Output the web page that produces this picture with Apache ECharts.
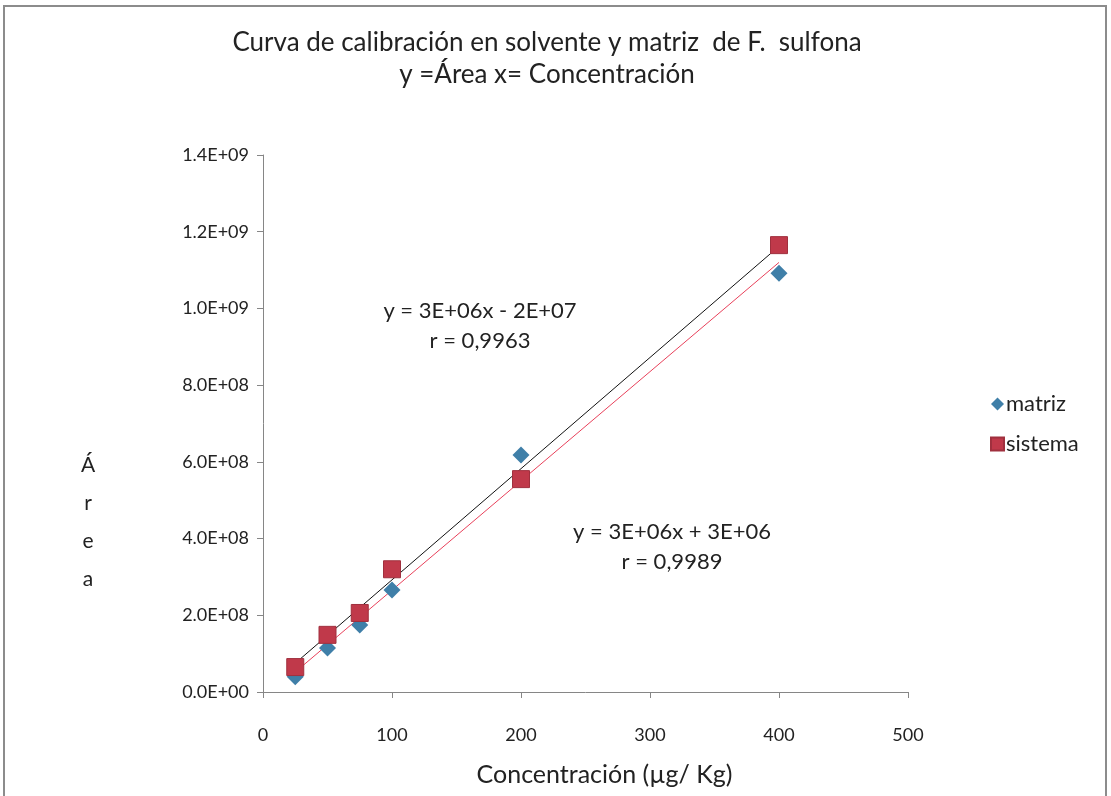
<!DOCTYPE html>
<html>
<head>
<meta charset="utf-8">
<script src="https://cdn.jsdelivr.net/npm/echarts@6/dist/echarts.min.js"></script>
<style>
  html, body { margin: 0; padding: 0; background: #fff; }
  #main { width: 1111px; height: 796px; }
</style>
</head>
<body>
<div id="main"></div>
<script>
// concentraciones (µg/Kg)
var conc = [25, 50, 75, 100, 200, 400];
// áreas
var matriz = [4.0e7, 1.15e8, 1.75e8, 2.66e8, 6.18e8, 1.092e9];
var sistema = [6.5e7, 1.49e8, 2.06e8, 3.2e8, 5.55e8, 1.165e9];
// extremos de las líneas de tendencia
var trendNegro = [[25, 7.5e7], [400, 1.162e9]];
var trendRosa = [[25, 5.2e7], [400, 1.12e9]];
var yTicks = ['0.0E+00', '2.0E+08', '4.0E+08', '6.0E+08', '8.0E+08', '1.0E+09', '1.2E+09', '1.4E+09'];

var FONT = 'Lato';
var chart = echarts.init(document.getElementById('main'));

function pares(xs, ys) {
  return xs.map(function (x, i) { return [x, ys[i]]; });
}

chart.setOption({
  animation: false,
  textStyle: { fontFamily: FONT },
  grid: { left: 263, right: 203, top: 155, bottom: 104 },
  title: {
    text: 'Curva de calibración en solvente y matriz  de F.  sulfona\ny =Área x= Concentración',
    left: 542,
    textAlign: 'center',
    top: 22,
    textStyle: { fontFamily: FONT, fontSize: 26, fontWeight: 'normal', color: '#222', lineHeight: 32 }
  },
  legend: {
    orient: 'vertical',
    left: 985,
    top: 388,
    itemGap: 18,
    itemWidth: 13,
    itemHeight: 13,
    textStyle: { fontFamily: FONT, fontSize: 22, color: '#222', padding: [0, 0, 0, -3] },
    data: [{ name: 'matriz', icon: 'diamond' }, { name: 'sistema', icon: 'rect' }]
  },
  xAxis: {
    type: 'value',
    min: 0, max: 500, interval: 100,
    name: 'Concentración (µg/ Kg)',
    nameLocation: 'middle',
    nameGap: 70,
    nameTextStyle: { fontFamily: FONT, fontSize: 25, color: '#222', padding: [0, 0, 0, 38] },
    axisLine: { lineStyle: { color: '#868686' } },
    axisTick: { show: true, length: 6, lineStyle: { color: '#868686' } },
    axisLabel: { fontFamily: FONT, fontSize: 18, color: '#222', margin: 34 },
    splitLine: { show: false }
  },
  yAxis: {
    type: 'value',
    min: 0, max: 1.4e9, interval: 2e8,
    axisLine: { show: true, lineStyle: { color: '#868686' } },
    axisTick: { show: true, length: 6, lineStyle: { color: '#868686' } },
    axisLabel: {
      fontFamily: FONT, fontSize: 18, color: '#222', margin: 14,
      formatter: function (v) { return yTicks[Math.round(v / 2e8)]; }
    },
    splitLine: { show: false }
  },
  series: [
    {
      name: 'tendencia sistema',
      type: 'line',
      data: trendNegro,
      symbol: 'none',
      lineStyle: { color: '#111', width: 1 },
      z: 3,
      silent: true
    },
    {
      name: 'tendencia matriz',
      type: 'line',
      data: trendRosa,
      symbol: 'none',
      lineStyle: { color: '#e8405a', width: 1 },
      z: 3,
      silent: true
    },
    {
      name: 'matriz',
      type: 'scatter',
      data: pares(conc, matriz),
      symbol: 'diamond',
      symbolSize: 17,
      itemStyle: { color: '#3f7fa8', opacity: 1 },
      z: 4
    },
    {
      name: 'sistema',
      type: 'scatter',
      data: pares(conc, sistema),
      symbol: 'rect',
      symbolSize: 17,
      itemStyle: { color: '#c0394a', borderColor: '#a0303e', borderWidth: 1, opacity: 1 },
      z: 5
    }
  ],
  graphic: [
    {
      type: 'rect',
      shape: { x: 4, y: 6, width: 1102, height: 820 },
      style: { fill: 'none', stroke: '#8c8c8c', lineWidth: 2 },
      silent: true
    },
    {
      type: 'text', x: 88, y: 446,
      style: { text: 'Á\nr\ne\na', align: 'center', fill: '#222',
        font: '21px ' + FONT, lineHeight: 38 }
    },
    {
      type: 'text', x: 480, y: 296,
      style: { text: 'y = 3E+06x - 2E+07\nr = 0,9963', align: 'center', fill: '#222',
        font: '22px ' + FONT, lineHeight: 30 }
    },
    {
      type: 'text', x: 672, y: 517,
      style: { text: 'y = 3E+06x + 3E+06\nr = 0,9989', align: 'center', fill: '#222',
        font: '22px ' + FONT, lineHeight: 30 }
    }
  ]
});
</script>
</body>
</html>
